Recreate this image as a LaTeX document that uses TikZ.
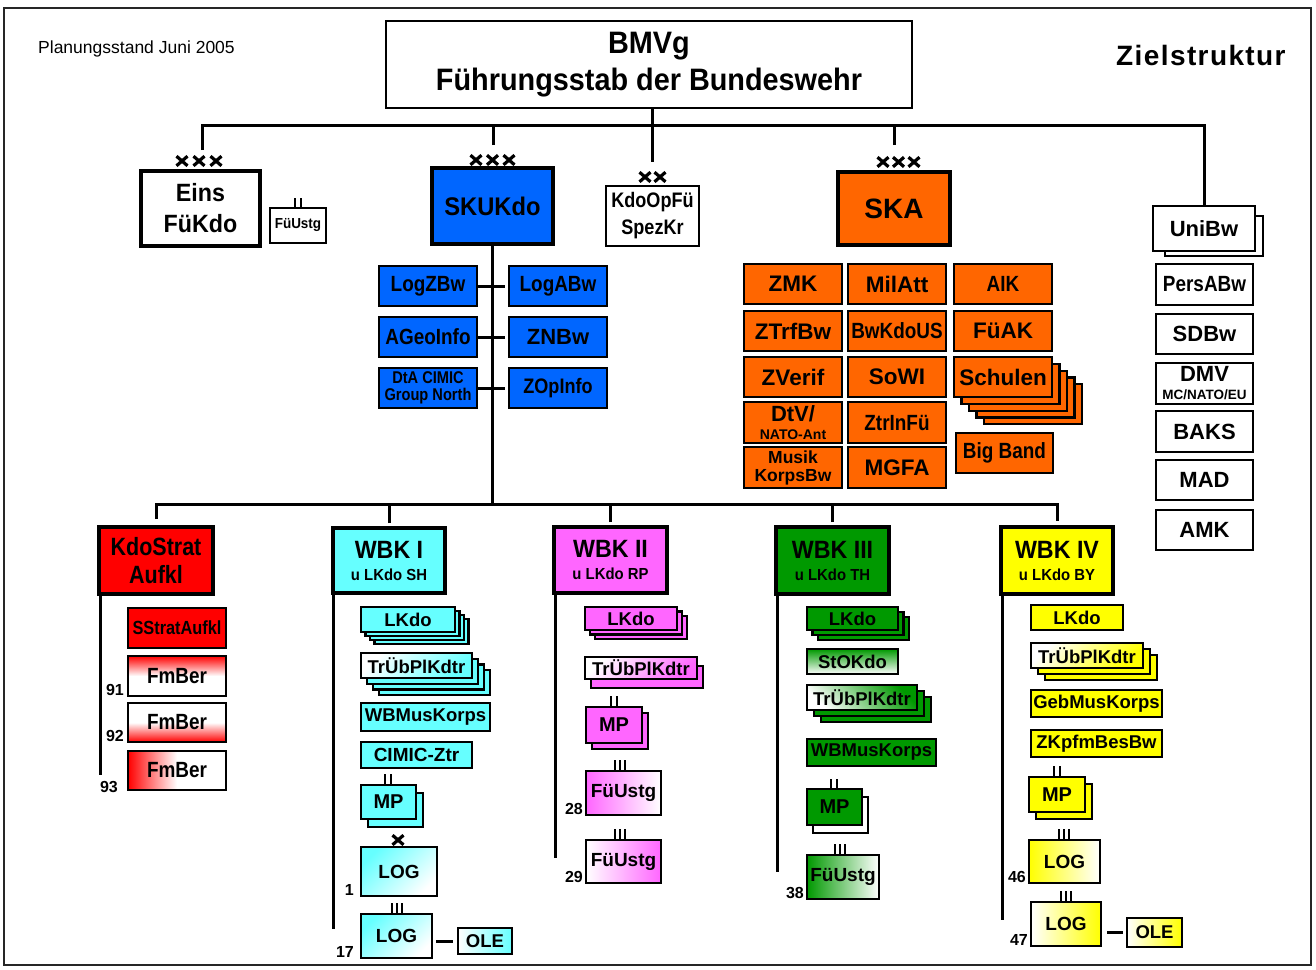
\documentclass[tikz,border=0pt]{standalone}
\usepackage{fontspec}
\setmainfont{Liberation Sans}
\newfontfamily\nf[FakeStretch=0.86]{Liberation Sans}
\newfontfamily\nfw[FakeStretch=0.93]{Liberation Sans}
\newfontfamily\zfont[LetterSpace=5]{Liberation Sans}
\usetikzlibrary{calc}
\definecolor{cBlue}{RGB}{0,102,255}
\definecolor{cOrange}{RGB}{255,102,0}
\definecolor{cRed}{RGB}{255,0,0}
\definecolor{cCyan}{RGB}{102,255,255}
\definecolor{cMag}{RGB}{255,102,255}
\definecolor{cGreen}{RGB}{0,153,0}
\definecolor{cYellow}{RGB}{255,255,0}
\tikzset{
 bx/.style={draw=black, line width=2.5pt, inner sep=0pt, outer sep=0pt, align=center, text=black},
 sbx/.style={bx, line width=2.2pt},
 tbx/.style={bx, line width=4pt},
 wbx/.style={bx, line width=3.5pt},
 conn/.style={line width=3pt, line cap=butt, line join=miter},
 xm/.style={line width=3.2pt},
 barl/.style={line width=2.2pt},
 lbl/.style={inner sep=0pt, font=\bfseries\fontsize{16}{16}\selectfont},
 fbs/.style={font=\bfseries\fontsize{18.5}{18.5}\selectfont},
 fbig/.style={font=\bfseries\fontsize{22.5}{22.5}\selectfont},
 fnar/.style={font=\nf\bfseries\fontsize{22}{22}\selectfont},
}
\newcommand\mkbox[7]{\node[#6, minimum width={(#4)-(#2)}, minimum height={(#5)-(#3)}] (#1) at ({((#2)+(#4))/2},{((#3)+(#5))/2}) {#7};}
\newcommand\mkstack[8]{\foreach \k in {#7,...,1}{\draw[line width=2.2pt, fill=#8] ({#1+\k*#5},{#2+\k*#6}) rectangle ({#3+\k*#5},{#4+\k*#6});}}
\newcommand\xx[2]{\draw[xm] ({#1-5.5},{#2-4.8}) -- ({#1+5.5},{#2+4.8}) ({#1-5.5},{#2+4.8}) -- ({#1+5.5},{#2-4.8});}
\newcommand\twob[3]{\draw[barl] ({#1-3},#2) -- ({#1-3},#3) ({#1+3},#2) -- ({#1+3},#3);}
\newcommand\threeb[3]{\draw[barl] ({#1-5},#2) -- ({#1-5},#3) (#1,#2) -- (#1,#3) ({#1+5},#2) -- ({#1+5},#3);}
\begin{document}
\begin{tikzpicture}[x=1pt,y=-1pt]
\useasboundingbox (0,0) rectangle (1316,969);
\draw[line width=1.5pt, draw=black!85] (4,8) rectangle (1311,965);

\node[anchor=base west, inner sep=0pt, font=\fontsize{17.5}{17.5}\selectfont] (plan) at (38,53) {Planungsstand Juni 2005};
\node[anchor=base west, inner sep=0pt, font=\zfont\bfseries\fontsize{28}{28}\selectfont] (ziel) at (1116,65) {Zielstruktur};

% ---------- top level ----------
\mkbox{bmvg}{386}{21}{912}{108}{bx, font=\nfw\bfseries\fontsize{31}{37}\selectfont}{BMVg\\Führungsstab der Bundeswehr}

\mkbox{eins}{141}{171}{260}{246}{tbx, font=\nfw\bfseries\fontsize{25}{31}\selectfont}{Eins\\FüKdo}
\xx{182}{161}\xx{199}{161}\xx{216}{161}
\mkbox{fuustg0}{270}{208}{326}{243}{bx, line width=2pt, font=\nfw\bfseries\fontsize{14.5}{14.5}\selectfont}{FüUstg}
\twob{298}{198}{208}

\mkbox{skukdo}{432}{168}{553}{244}{tbx, fill=cBlue, font=\nfw\bfseries\fontsize{25.5}{25.5}\selectfont}{SKUKdo}
\xx{476}{160}\xx{492.5}{160}\xx{509}{160}

\mkbox{kdoopfu}{606}{186}{699}{246}{bx, font=\nf\bfseries\fontsize{21}{27}\selectfont}{KdoOpFü\\SpezKr}
\xx{645}{177}\xx{660}{177}

\mkbox{ska}{838}{172}{950}{245}{tbx, fill=cOrange, font=\bfseries\fontsize{28}{28}\selectfont}{SKA}
\xx{883}{162}\xx{898.5}{162}\xx{914}{162}

% right column
\draw[line width=2.2pt, fill=white] (1165,216) rectangle (1263,256);
\mkbox{unibw}{1153}{206}{1255}{251}{bx, fill=white, font=\bfseries\fontsize{22}{22}\selectfont}{UniBw}
\mkbox{persabw}{1156}{264}{1253}{305}{bx, font=\nf\bfseries\fontsize{22}{22}\selectfont}{PersABw}
\mkbox{sdbw}{1156}{314}{1253}{354}{bx, font=\bfseries\fontsize{22}{22}\selectfont}{SDBw}
\mkbox{dmv}{1156}{363}{1253}{404}{bx, font=\bfseries\fontsize{22}{18}\selectfont}{DMV\\{\fontsize{13.5}{13.5}\selectfont MC/NATO/EU}}
\mkbox{baks}{1156}{411}{1253}{452}{bx, font=\bfseries\fontsize{22}{22}\selectfont}{BAKS}
\mkbox{mad}{1156}{460}{1253}{500}{bx, font=\bfseries\fontsize{22}{22}\selectfont}{MAD}
\mkbox{amk}{1156}{510}{1253}{550}{bx, font=\bfseries\fontsize{22}{22}\selectfont}{AMK}

% top connectors
\coordinate (bus) at (0,125);
\coordinate (einsT) at (202,150);
\coordinate (skukT) at (493,145);
\coordinate (skaT) at (894,145);
\coordinate (kdoT) at (652,162);
\draw[conn] (einsT) -- (einsT |- bus) -- (bus -| unibw.north) -- (unibw.north);
\draw[conn] (skukT) -- (skukT |- bus);
\draw[conn] (skaT) -- (skaT |- bus);
\draw[conn] (bmvg.south -| kdoT) -- (kdoT);

% SKUKdo children
\mkbox{logzbw}{379}{266}{477}{306}{bx, fill=cBlue, fnar}{LogZBw}
\mkbox{logabw}{509}{266}{607}{306}{bx, fill=cBlue, fnar}{LogABw}
\mkbox{ageo}{379}{317}{477}{357}{bx, fill=cBlue, fnar}{AGeoInfo}
\mkbox{znbw}{509}{317}{607}{357}{bx, fill=cBlue, font=\bfseries\fontsize{22}{22}\selectfont}{ZNBw}
\mkbox{dtacimic}{379}{368}{477}{408}{bx, fill=cBlue, font=\nf\bfseries\fontsize{17}{17}\selectfont}{DtA CIMIC\\Group North}
\mkbox{zopinfo}{509}{368}{607}{408}{bx, fill=cBlue, font=\nf\bfseries\fontsize{21}{21}\selectfont}{ZOpInfo}
\draw[conn] (logzbw.east) -- ([xshift=-4pt]logabw.west);
\draw[conn] (ageo.east) -- ([xshift=-4pt]znbw.west);
\draw[conn] (dtacimic.east) -- ([xshift=-4pt]zopinfo.west);

% SKA children
\mkbox{zmk}{744}{264}{842}{304}{bx, fill=cOrange, fbig}{ZMK}
\mkbox{milatt}{848}{264}{946}{304}{bx, fill=cOrange, fbig}{MilAtt}
\mkbox{aik}{954}{264}{1052}{304}{bx, fill=cOrange, fnar}{AIK}
\mkbox{ztrfbw}{744}{311}{842}{351}{bx, fill=cOrange, fbig}{ZTrfBw}
\mkbox{bwkdous}{848}{311}{946}{351}{bx, fill=cOrange, fnar}{BwKdoUS}
\mkbox{fuak}{954}{311}{1052}{351}{bx, fill=cOrange, fbig}{FüAK}
\mkbox{zverif}{744}{357}{842}{397}{bx, fill=cOrange, fbig}{ZVerif}
\mkbox{sowi}{848}{357}{946}{397}{bx, fill=cOrange, fbig}{SoWI}
\mkstack{954}{357}{1052}{397}{7.5}{6.8}{4}{cOrange}
\mkbox{schulen}{954}{357}{1052}{397}{bx, fill=cOrange, fbig}{Schulen}
\mkbox{dtv}{744}{402}{842}{443}{bx, fill=cOrange, font=\bfseries\fontsize{22}{18}\selectfont}{DtV/\\{\fontsize{14}{14}\selectfont NATO-Ant}}
\mkbox{ztrinfu}{848}{402}{946}{443}{bx, fill=cOrange, fnar}{ZtrInFü}
\mkbox{bigband}{956}{433}{1053}{473}{bx, fill=cOrange, fnar}{Big Band}
\mkbox{musik}{744}{447}{842}{488}{bx, fill=cOrange, font=\bfseries\fontsize{17.5}{18}\selectfont}{Musik\\KorpsBw}
\mkbox{mgfa}{848}{447}{946}{488}{bx, fill=cOrange, fbig}{MGFA}

% ---------- bottom level ----------
\mkbox{kdostrat}{99}{527}{213}{594}{wbx, fill=cRed, font=\nf\bfseries\fontsize{25}{28}\selectfont}{KdoStrat\\Aufkl}
\mkbox{wbk1}{333}{528}{445}{593}{wbx, fill=cCyan, font=\nfw\bfseries\fontsize{25}{22}\selectfont}{WBK I\\{\fontsize{16}{16}\selectfont u LKdo SH}}
\mkbox{wbk2}{554}{527}{667}{593}{wbx, fill=cMag, font=\nfw\bfseries\fontsize{25}{22}\selectfont}{WBK II\\{\fontsize{16}{16}\selectfont u LKdo RP}}
\mkbox{wbk3}{776}{527}{889}{594}{wbx, fill=cGreen, font=\nfw\bfseries\fontsize{25}{22}\selectfont}{WBK III\\{\fontsize{16}{16}\selectfont u LKdo TH}}
\mkbox{wbk4}{1001}{527}{1113}{594}{wbx, fill=cYellow, font=\nfw\bfseries\fontsize{25}{22}\selectfont}{WBK IV\\{\fontsize{16}{16}\selectfont u LKdo BY}}

\coordinate (bus2) at (0,504);
\draw[conn] (skukdo.south) -- (skukdo.south |- bus2);
\draw[conn] ([yshift=8pt]kdostrat.north) -- (kdostrat.north |- bus2) -- (wbk4.north |- bus2) -- ([yshift=6pt]wbk4.north);
\draw[conn] ([yshift=5pt]wbk1.north) -- (wbk1.north |- bus2);
\draw[conn] ([yshift=5pt]wbk2.north) -- (wbk2.north |- bus2);
\draw[conn] ([yshift=5pt]wbk3.north) -- (wbk3.north |- bus2);

% KdoStrat column
\coordinate (kse) at (100,775);
\draw[conn] ([xshift=1pt]kdostrat.south west) -- (kse);
\mkbox{sstrat}{128}{608}{226}{648}{bx, fill=cRed, font=\nf\bfseries\fontsize{19}{19}\selectfont}{SStratAufkl}
\mkbox{fm91}{128}{656}{226}{696}{bx, top color=cRed, bottom color=white, middle color=white, fnar}{FmBer}
\mkbox{fm92}{128}{703}{226}{742}{bx, top color=white, bottom color=cRed, middle color=white, fnar}{FmBer}
\mkbox{fm93}{128}{751}{226}{790}{bx, left color=cRed, right color=white, middle color=white, fnar}{FmBer}
\node[lbl, anchor=base east] (l91) at ([xshift=-4pt,yshift=1pt]fm91.south west) {91};
\node[lbl, anchor=base east] (l92) at ([xshift=-4pt,yshift=1pt]fm92.south west) {92};
\node[lbl, anchor=base east] (l93) at ([xshift=-10pt,yshift=-2pt]fm93.south west) {93};

% WBK I column
\coordinate (w1e) at (333,929);
\draw[conn] (wbk1.south west) -- (w1e);
\mkstack{361}{607}{455}{632}{4.5}{4}{3}{cCyan}
\mkbox{lkdo1}{361}{607}{455}{632}{sbx, fill=cCyan, fbs}{LKdo}
\mkstack{361}{653}{472}{678}{6}{5.7}{3}{cCyan}
\mkbox{trub1}{361}{653}{472}{678}{sbx, top color=white, bottom color=cCyan, shading angle=45, fbs}{TrÜbPlKdtr}
\mkbox{wbmus1}{361}{703}{490}{731}{sbx, fill=cCyan, fbs}{WBMusKorps}
\mkbox{cimic}{361}{742}{472}{768}{sbx, fill=cCyan, font=\bfseries\fontsize{19}{19}\selectfont}{CIMIC-Ztr}
\twob{388}{774}{785}
\mkstack{361}{785}{416}{819}{7}{8}{1}{cCyan}
\mkbox{mp1}{361}{785}{416}{819}{sbx, fill=cCyan, font=\bfseries\fontsize{20}{20}\selectfont}{MP}
\xx{398}{840}
\mkbox{log1}{361}{847}{437}{896}{sbx, top color=cCyan, bottom color=white, shading angle=45, font=\bfseries\fontsize{19}{19}\selectfont}{LOG}
\threeb{397}{903}{914}
\mkbox{log17}{361}{914}{432}{958}{sbx, top color=cCyan, bottom color=white, shading angle=45, font=\bfseries\fontsize{19}{19}\selectfont}{LOG}
\mkbox{ole1}{458}{928}{512}{954}{sbx, left color=white, right color=cCyan, fbs}{OLE}
\draw[conn] ([xshift=4pt]ole1.west -| log17.east) -- ([xshift=-5pt]ole1.west);
\node[lbl, anchor=base east] (l1) at ([xshift=-7pt,yshift=1pt]log1.south west) {1};
\node[lbl, anchor=base east] (l17) at ([xshift=-7pt,yshift=1pt]log17.south west) {17};

% WBK II column
\coordinate (w2e) at (555,858);
\draw[conn] ([xshift=1pt]wbk2.south west) -- (w2e);
\mkstack{585}{607}{677}{630}{5}{4.5}{2}{cMag}
\mkbox{lkdo2}{585}{607}{677}{630}{sbx, fill=cMag, fbs}{LKdo}
\mkstack{585}{657}{697}{679}{6}{9}{1}{cMag}
\mkbox{trub2}{585}{657}{697}{679}{sbx, top color=white, bottom color=cMag, shading angle=45, fbs}{TrÜbPlKdtr}
\twob{614}{696}{707}
\mkstack{586}{707}{642}{743}{6}{6}{1}{cMag}
\mkbox{mp2}{586}{707}{642}{743}{sbx, fill=cMag, font=\bfseries\fontsize{20}{20}\selectfont}{MP}
\threeb{620}{760}{771}
\mkbox{fu28}{586}{771}{661}{815}{sbx, left color=cMag, right color=white, font=\bfseries\fontsize{19}{19}\selectfont}{FüUstg}
\threeb{620}{829}{840}
\mkbox{fu29}{586}{840}{661}{883}{sbx, left color=white, right color=cMag, font=\bfseries\fontsize{19}{19}\selectfont}{FüUstg}
\node[lbl, anchor=base east] (l28) at ([xshift=-3pt,yshift=1pt]fu28.south west) {28};
\node[lbl, anchor=base east] (l29) at ([xshift=-3pt,yshift=1pt]fu29.south west) {29};

% WBK III column
\coordinate (w3e) at (777,872);
\draw[conn] ([xshift=1pt]wbk3.south west) -- (w3e);
\mkstack{807}{607}{898}{630}{5.5}{5}{2}{cGreen}
\mkbox{lkdo3}{807}{607}{898}{630}{sbx, fill=cGreen, fbs}{LKdo}
\mkbox{stokdo}{807}{649}{898}{674}{sbx, top color=cGreen, bottom color=white, fbs}{StOKdo}
\mkstack{807}{685}{917}{710}{7}{6}{2}{cGreen}
\mkbox{trub3}{807}{685}{917}{710}{sbx, top color=cGreen, bottom color=white, shading angle=-45, fbs}{TrÜbPlKdtr}
\mkbox{wbmus3}{807}{739}{936}{766}{sbx, fill=cGreen, fbs}{WBMusKorps}
\twob{834}{779}{789}
\mkstack{807}{789}{862}{825}{6}{8}{1}{white}
\mkbox{mp3}{807}{789}{862}{825}{sbx, fill=cGreen, font=\bfseries\fontsize{20}{20}\selectfont}{MP}
\threeb{840}{844}{855}
\mkbox{fu38}{807}{855}{879}{899}{sbx, left color=cGreen, right color=white, font=\bfseries\fontsize{19}{19}\selectfont}{FüUstg}
\node[lbl, anchor=base east] (l38) at ([xshift=-3pt,yshift=1pt]fu38.south west) {38};

% WBK IV column
\coordinate (w4e) at (1002,920);
\draw[conn] ([xshift=1pt]wbk4.south west) -- (w4e);
\mkbox{lkdo4}{1031}{605}{1123}{630}{sbx, fill=cYellow, fbs}{LKdo}
\mkstack{1031}{643}{1143}{668}{7}{6}{2}{cYellow}
\mkbox{trub4}{1031}{643}{1143}{668}{sbx, top color=white, bottom color=cYellow, shading angle=45, fbs}{TrÜbPlKdtr}
\mkbox{gebmus}{1031}{690}{1162}{717}{sbx, fill=cYellow, fbs}{GebMusKorps}
\mkbox{zkpfm}{1031}{730}{1162}{757}{sbx, fill=cYellow, fbs}{ZKpfmBesBw}
\twob{1057}{766}{777}
\mkstack{1029}{777}{1085}{812}{7}{7}{1}{cYellow}
\mkbox{mp4}{1029}{777}{1085}{812}{sbx, fill=cYellow, font=\bfseries\fontsize{20}{20}\selectfont}{MP}
\threeb{1064}{829}{840}
\mkbox{log46}{1029}{840}{1100}{883}{sbx, left color=cYellow, right color=white, font=\bfseries\fontsize{19}{19}\selectfont}{LOG}
\threeb{1066}{891}{902}
\mkbox{log47}{1031}{902}{1101}{946}{sbx, left color=white, right color=cYellow, font=\bfseries\fontsize{19}{19}\selectfont}{LOG}
\mkbox{ole2}{1127}{918}{1182}{947}{sbx, left color=white, right color=cYellow, fbs}{OLE}
\draw[conn] ([xshift=6pt]ole2.west -| log47.east) -- ([xshift=-4pt]ole2.west);
\node[lbl, anchor=base east] (l46) at ([xshift=-3pt,yshift=1pt]log46.south west) {46};
\node[lbl, anchor=base east] (l47) at ([xshift=-3pt,yshift=1pt]log47.south west) {47};
\end{tikzpicture}
\end{document}
